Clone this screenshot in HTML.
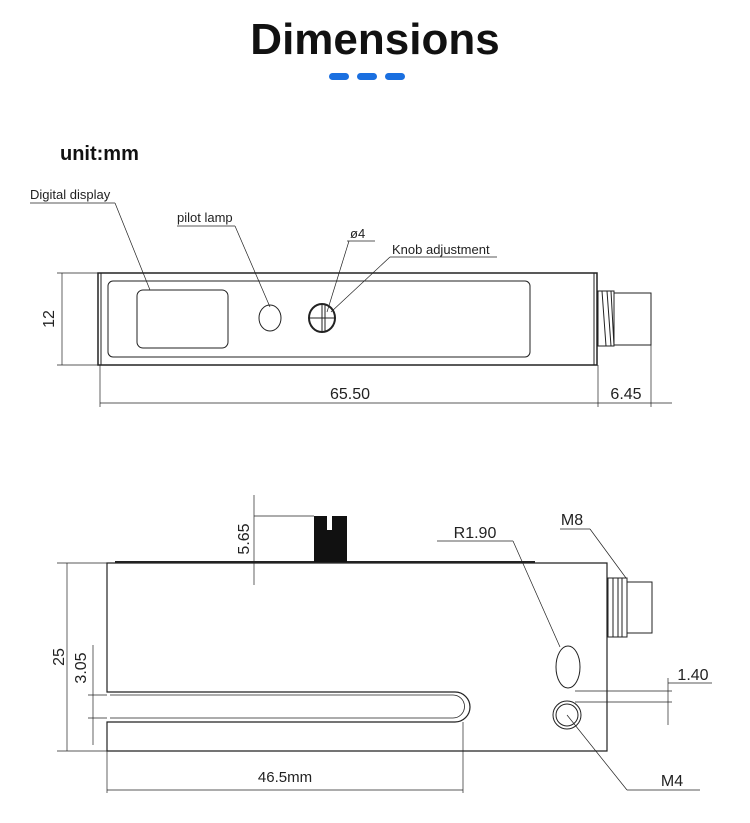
<!DOCTYPE html>
<html><head><meta charset="utf-8"><style>
html,body{margin:0;padding:0;background:#fff;}
svg{display:block;font-family:"Liberation Sans",sans-serif;}
</style></head><body>
<svg width="750" height="823" viewBox="0 0 750 823" xmlns="http://www.w3.org/2000/svg">
<text x="375" y="54" text-anchor="middle" font-size="44" font-weight="bold" fill="#111">Dimensions</text>
<rect x="329" y="73" width="20" height="7" rx="3.5" fill="#1a6fe0"/>
<rect x="357" y="73" width="20" height="7" rx="3.5" fill="#1a6fe0"/>
<rect x="385" y="73" width="20" height="7" rx="3.5" fill="#1a6fe0"/>
<text x="60" y="160" font-size="20" font-weight="bold" fill="#111">unit:mm</text>

<g fill="none" stroke="#222" stroke-width="1">
<!-- top view -->
<rect x="98" y="273" width="499" height="92" stroke-width="1.5"/>
<line x1="101" y1="273" x2="101" y2="365"/>
<line x1="594" y1="273" x2="594" y2="365"/>
<rect x="108" y="281" width="422" height="76" rx="5"/>
<rect x="137" y="290" width="91" height="58" rx="6"/>
<ellipse cx="270" cy="318" rx="11" ry="13"/>
<ellipse cx="322" cy="318" rx="13" ry="14" stroke-width="2"/>
<line x1="322" y1="304" x2="322" y2="332"/><line x1="325" y1="304" x2="325" y2="332"/>
<line x1="309" y1="318" x2="335" y2="318"/>
<rect x="598" y="291" width="16" height="55"/>
<path d="M602 291 L606 346 M607 291 L611 346 M611 291 L614 346" />
<rect x="614" y="293" width="37" height="52"/>
<line x1="57" y1="273" x2="98" y2="273" stroke-width="0.7"/>
<line x1="57" y1="365" x2="98" y2="365" stroke-width="0.7"/>
<line x1="62" y1="273" x2="62" y2="365" stroke-width="0.7"/>
<line x1="100" y1="365" x2="100" y2="407" stroke-width="0.7"/>
<line x1="598" y1="365" x2="598" y2="407" stroke-width="0.7"/>
<line x1="651" y1="345" x2="651" y2="407" stroke-width="0.7"/>
<line x1="100" y1="403" x2="598" y2="403" stroke-width="0.7"/>
<line x1="598" y1="403" x2="672" y2="403" stroke-width="0.7"/>
<line x1="30" y1="203" x2="115" y2="203" stroke-width="0.7"/>
<line x1="115" y1="203" x2="150" y2="290" stroke-width="0.7"/>
<line x1="177" y1="226" x2="235" y2="226" stroke-width="0.7"/>
<line x1="235" y1="226" x2="270" y2="307" stroke-width="0.7"/>
<line x1="347" y1="241" x2="375" y2="241" stroke-width="0.7"/>
<line x1="349" y1="241" x2="327" y2="312" stroke-width="0.7"/>
<line x1="390" y1="257" x2="497" y2="257" stroke-width="0.7"/>
<line x1="390" y1="257" x2="331" y2="312" stroke-width="0.7"/>

<!-- bottom view -->
<path d="M107 563 H607 V751 H107 V722 H455 A14 14 0 0 0 455 692 H107 Z" stroke-width="1.2"/>
<line x1="115" y1="562" x2="535" y2="562" stroke-width="2"/>
<path d="M110 695 H453 A11 11 0 0 1 453 718 H110" stroke-width="0.8"/>
<ellipse cx="568" cy="667" rx="12" ry="21"/>
<circle cx="567" cy="715" r="14"/>
<circle cx="567" cy="715" r="11"/>
<rect x="608" y="578" width="19" height="59"/>
<path d="M613 578 V637 M618 578 V637 M622 578 V637"/>
<rect x="627" y="582" width="25" height="51"/>
<line x1="254" y1="495" x2="254" y2="585" stroke-width="0.7"/>
<line x1="254" y1="516" x2="314" y2="516" stroke-width="0.7"/>
<line x1="57" y1="563" x2="107" y2="563" stroke-width="0.7"/>
<line x1="57" y1="751" x2="107" y2="751" stroke-width="0.7"/>
<line x1="67" y1="563" x2="67" y2="751" stroke-width="0.7"/>
<line x1="93" y1="645" x2="93" y2="745" stroke-width="0.7"/>
<line x1="88" y1="695" x2="107" y2="695" stroke-width="0.7"/>
<line x1="88" y1="718" x2="107" y2="718" stroke-width="0.7"/>
<line x1="107" y1="751" x2="107" y2="793" stroke-width="0.7"/>
<line x1="463" y1="722" x2="463" y2="793" stroke-width="0.7"/>
<line x1="107" y1="790" x2="463" y2="790" stroke-width="0.7"/>
<line x1="575" y1="691" x2="672" y2="691" stroke-width="0.7"/>
<line x1="575" y1="702" x2="672" y2="702" stroke-width="0.7"/>
<line x1="668" y1="678" x2="668" y2="725" stroke-width="0.7"/>
<line x1="668" y1="683" x2="712" y2="683" stroke-width="0.7"/>
<line x1="437" y1="541" x2="513" y2="541" stroke-width="0.7"/>
<line x1="513" y1="541" x2="560" y2="647" stroke-width="0.7"/>
<line x1="560" y1="529" x2="590" y2="529" stroke-width="0.7"/>
<line x1="590" y1="529" x2="626" y2="578" stroke-width="0.7"/>
<line x1="567" y1="715" x2="627" y2="790" stroke-width="0.7"/>
<line x1="627" y1="790" x2="700" y2="790" stroke-width="0.7"/>
</g>
<rect x="314" y="516" width="33" height="46" fill="#111"/>
<rect x="327" y="516" width="5" height="14" fill="#fff"/>

<g font-size="14" fill="#222">
<text x="30" y="199" font-size="13">Digital display</text>
<text x="177" y="222" font-size="13">pilot lamp</text>
<text x="350" y="238" font-size="13">ø4</text>
<text x="392" y="254" font-size="13">Knob adjustment</text>
<text transform="translate(54,319) rotate(-90)" text-anchor="middle" font-size="16">12</text>
<text x="350" y="399" text-anchor="middle" font-size="16">65.50</text>
<text x="626" y="399" text-anchor="middle" font-size="16">6.45</text>
<text transform="translate(249,539) rotate(-90)" text-anchor="middle" font-size="16">5.65</text>
<text transform="translate(64,657) rotate(-90)" text-anchor="middle" font-size="16">25</text>
<text transform="translate(86,668) rotate(-90)" text-anchor="middle" font-size="16">3.05</text>
<text x="285" y="782" text-anchor="middle" font-size="15">46.5mm</text>
<text x="475" y="538" text-anchor="middle" font-size="16">R1.90</text>
<text x="572" y="525" text-anchor="middle" font-size="16">M8</text>
<text x="693" y="680" text-anchor="middle" font-size="16">1.40</text>
<text x="672" y="786" text-anchor="middle" font-size="16">M4</text>
</g>
</svg>
</body></html>
